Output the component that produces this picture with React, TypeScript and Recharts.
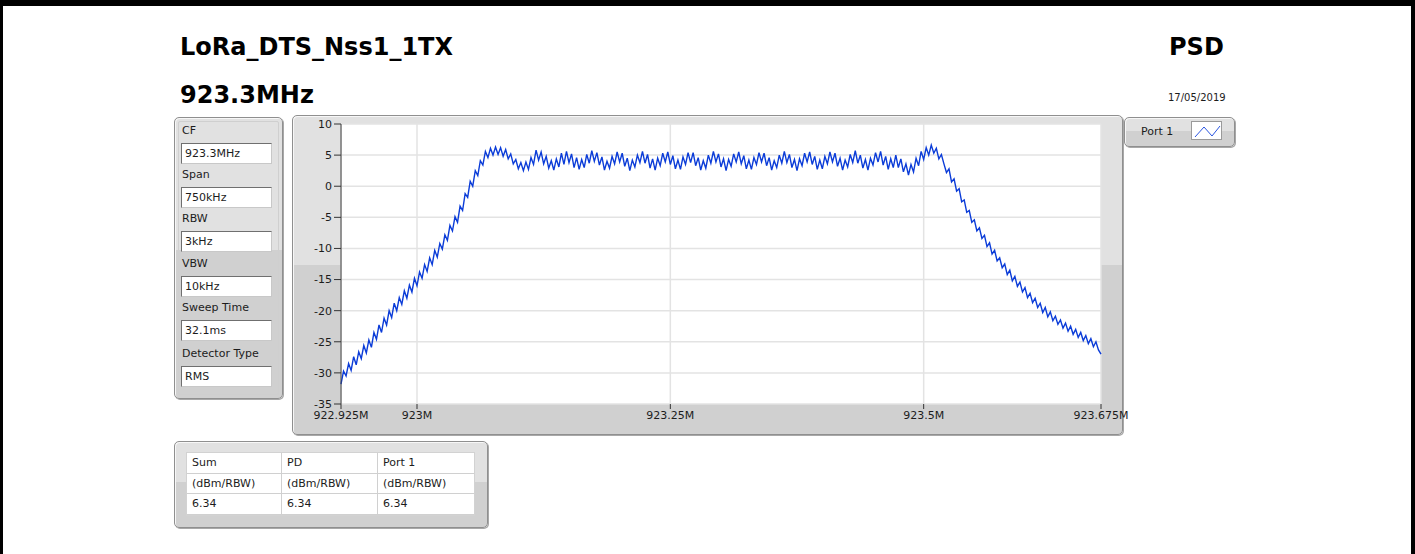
import { LineChart, Line, XAxis, YAxis, CartesianGrid } from "recharts";

// PSD trace, one value per 2.5 kHz sweep step (dBm/RBW)
const psdDbm = [
  -31.8, -29.7, -30.5, -28.5, -29.6, -27.4, -28.7, -26.6, -27.7, -25.6,
  -26.8, -24.7, -25.9, -23.5, -24.6, -22.3, -23.5, -21.2, -22.3, -20.0,
  -21.1, -18.8, -20.0, -17.9, -19.0, -16.8, -18.0, -15.9, -17.0, -14.8,
  -16.0, -13.8, -14.8, -12.6, -13.7, -11.5, -12.6, -10.3, -11.4, -9.2,
  -10.1, -7.8, -8.7, -6.3, -7.2, -4.9, -5.8, -3.2, -3.9, -1.2,
  -1.8, 0.8, 0.0, 2.5, 1.7, 4.1, 3.4, 5.6, 4.6, 6.1,
  5.0, 6.3, 5.1, 6.2, 4.8, 5.9, 4.4, 5.2, 3.6, 4.3,
  2.8, 3.8, 2.5, 3.9, 2.7, 4.6, 3.5, 5.8, 4.2, 5.5,
  3.6, 4.8, 2.9, 4.1, 2.6, 4.4, 3.1, 5.3, 3.5, 5.6,
  3.8, 5.2, 3.0, 4.6, 2.7, 4.3, 3.0, 5.1, 3.7, 5.7,
  4.0, 5.4, 3.4, 4.7, 2.6, 4.0, 2.9, 4.8, 3.6, 5.5,
  3.9, 5.3, 3.2, 4.5, 2.5, 4.2, 3.1, 5.0, 3.8, 5.6,
  3.7, 5.1, 2.9, 4.4, 2.6, 4.5, 3.3, 5.3, 3.9, 5.5,
  3.5, 4.9, 2.8, 4.2, 2.7, 4.7, 3.5, 5.4, 3.8, 5.4,
  3.3, 4.6, 2.6, 4.1, 2.9, 5.0, 3.7, 5.6, 3.9, 5.2,
  3.1, 4.4, 2.5, 4.3, 3.2, 5.2, 3.9, 5.5, 3.6, 4.9,
  2.8, 4.2, 2.7, 4.6, 3.5, 5.4, 3.9, 5.3, 3.3, 4.6,
  2.6, 4.1, 3.0, 5.0, 3.7, 5.6, 3.8, 5.1, 3.0, 4.3,
  2.5, 4.4, 3.3, 5.3, 3.9, 5.5, 3.5, 4.8, 2.7, 4.2,
  2.8, 4.8, 3.6, 5.5, 3.9, 5.3, 3.2, 4.5, 2.6, 4.2,
  3.1, 5.1, 3.8, 5.7, 3.7, 5.0, 2.9, 4.3, 2.6, 4.5,
  3.4, 5.4, 3.9, 5.6, 3.4, 4.8, 2.7, 4.4, 3.0, 5.0,
  3.0, 4.4, 2.3, 3.6, 1.8, 3.5, 2.3, 4.5, 3.3, 5.6,
  4.3, 6.2, 5.0, 6.6, 5.3, 6.1, 4.4, 5.1, 3.6, 2.2,
  2.8, 0.7, 1.2, -0.8, -0.4, -2.5, -2.2, -4.2, -3.9, -5.8,
  -5.4, -7.2, -6.7, -8.4, -7.9, -9.7, -9.1, -10.9, -10.3, -12.0,
  -11.5, -13.1, -12.5, -14.2, -13.5, -15.2, -14.5, -16.1, -15.4, -17.0,
  -16.3, -17.9, -17.2, -18.7, -18.0, -19.5, -18.8, -20.3, -19.5, -21.0,
  -20.2, -21.6, -20.9, -22.2, -21.5, -22.8, -22.0, -23.3, -22.5, -23.8,
  -23.0, -24.3, -23.5, -24.8, -24.0, -25.3, -24.5, -25.8, -25.0, -26.3,
  -27.0,
];

// sweep: 922.925 MHz start, 2.5 kHz per point (750 kHz span)
const startKHz = 922925;
const stepKHz = 2.5;
const xTicks = [922925, 923000, 923250, 923500, 923675];
const yTicks = [10, 5, 0, -5, -10, -15, -20, -25, -30, -35];

const settingLabels = ["CF", "Span", "RBW", "VBW", "Sweep Time", "Detector Type"];
const settingValues = ["923.3MHz", "750kHz", "3kHz", "10kHz", "32.1ms", "RMS"];

const tableHeaders = ["Sum", "PD", "Port 1"];
const tableUnits = ["(dBm/RBW)", "(dBm/RBW)", "(dBm/RBW)"];
const tableValues = ["6.34", "6.34", "6.34"];

const data = psdDbm.map((v, i) => ({ f: startKHz + i * stepKHz, psd: v }));

const font = '"DejaVu Sans", Verdana, sans-serif';
const ink = "#1c1c1c";
const tick = { fontSize: 11, fill: ink, fontFamily: font } as const;

function Panel({ x, y, w, h, children }: any) {
  return (
    <div
      style={{
        position: "absolute",
        left: x,
        top: y,
        width: w,
        height: h,
        boxSizing: "border-box",
        border: "1px solid #8f8f8f",
        borderRadius: 5,
        background: "linear-gradient(#e1e1e1 47%, #d0d0d0 47%)",
        boxShadow: "1px 1px 0 #a8a8a8, inset 1px 1px 0 #f7f7f7",
      }}
    >
      {children}
    </div>
  );
}

function Txt({ x, y, size, bold, children, w, align }: any) {
  return (
    <div
      style={{
        position: "absolute",
        left: x,
        top: y,
        width: w,
        textAlign: align || "left",
        fontFamily: font,
        fontSize: size,
        fontWeight: bold ? 700 : 400,
        lineHeight: 1,
        color: bold ? "#000" : ink,
        whiteSpace: "nowrap",
      }}
    >
      {children}
    </div>
  );
}

export default function App() {
  const rowTop = [143, 187, 231, 276, 320, 366];
  return (
    <div
      style={{
        position: "absolute",
        left: 0,
        top: 0,
        width: 1415,
        height: 554,
        background: "#fff",
        overflow: "hidden",
        fontFamily: font,
      }}
    >
      {/* frame */}
      <div style={{ position: "absolute", left: 0, top: 0, width: 1415, height: 6, background: "#000" }} />
      <div style={{ position: "absolute", left: 0, top: 0, width: 3, height: 554, background: "#000" }} />
      <div style={{ position: "absolute", left: 1411, top: 0, width: 4, height: 554, background: "#000" }} />

      <Txt x={180} y={35} size={24} bold>LoRa_DTS_Nss1_1TX</Txt>
      <Txt x={1169} y={35} size={24} bold>PSD</Txt>
      <Txt x={180} y={83} size={24} bold>923.3MHz</Txt>
      <Txt x={1168} y={93} size={10}>17/05/2019</Txt>

      {/* settings panel */}
      <Panel x={174} y={117} w={109} h={282}>
        <div
          style={{
            position: "absolute",
            left: 3,
            top: 3,
            right: 3,
            bottom: 3,
            border: "1px solid #cfcfcf",
            borderRadius: 2,
          }}
        />
      </Panel>
      {settingLabels.map((lab, i) => (
        <div key={lab}>
          <Txt x={182} y={rowTop[i] - 18} size={11}>{lab}</Txt>
          <div
            style={{
              position: "absolute",
              left: 181,
              top: rowTop[i],
              width: 91,
              height: 21,
              boxSizing: "border-box",
              background: "#fff",
              borderTop: "1px solid #6f6f6f",
              borderLeft: "1px solid #6f6f6f",
              borderRight: "1px solid #c8c8c8",
              borderBottom: "1px solid #c8c8c8",
              fontSize: 11,
              lineHeight: "19px",
              paddingLeft: 3,
              color: ink,
            }}
          >
            {settingValues[i]}
          </div>
        </div>
      ))}

      {/* graph panel */}
      <Panel x={292} y={115} w={831} h={320} />
      <div style={{ position: "absolute", left: 292, top: 115 }}>
        <LineChart
          width={850}
          height={320}
          data={data}
          margin={{ top: 9, right: 41, left: 0, bottom: 0 }}
        >
          <CartesianGrid fill="#ffffff" stroke="#e3e3e3" strokeWidth={1.5} />
          <XAxis
            dataKey="f"
            type="number"
            domain={[922925, 923675]}
            ticks={xTicks}
            interval={0}
            tickFormatter={(v: number) => `${v / 1000}M`}
            tick={tick}
            axisLine={false}
            tickLine={{ stroke: "#333" }}
            tickSize={5}
            tickMargin={2}
            height={31}
          />
          <YAxis
            type="number"
            domain={[-35, 10]}
            ticks={yTicks}
            interval={0}
            tick={tick}
            axisLine={{ stroke: "#3c3c3c" }}
            tickLine={{ stroke: "#333" }}
            tickSize={7}
            tickMargin={2}
            width={49}
          />
          <Line
            type="linear"
            dataKey="psd"
            stroke="#0b3cd8"
            strokeWidth={1.4}
            dot={false}
            isAnimationActive={false}
          />
        </LineChart>
      </div>

      {/* legend */}
      <Panel x={1124} y={117} w={111} h={30} />
      <Txt x={1141} y={126} size={11}>Port 1</Txt>
      <svg
        width={31}
        height={19}
        style={{ position: "absolute", left: 1191, top: 121, background: "#fff", border: "1px solid #9a9a9a", boxSizing: "border-box" }}
      >
        <polyline points="3,15 12,5 20,14 28,4" fill="none" stroke="#2a55e0" strokeWidth={1} />
      </svg>

      {/* measurement table */}
      <Panel x={174} y={441} w={314} h={87} />
      <div
        style={{
          position: "absolute",
          left: 186,
          top: 452,
          width: 289,
          height: 64,
          background: "#fff",
          border: "1px solid #d2d2d2",
          boxSizing: "border-box",
        }}
      >
        {[tableHeaders, tableUnits, tableValues].map((row, r) => (
          <div key={r} style={{ display: "flex", height: r === 1 ? 20 : 21, borderBottom: "1px solid #d0d0d0", boxSizing: "border-box" }}>
            {row.map((c, k) => (
              <div
                key={k}
                style={{
                  width: k === 0 ? 95 : 96,
                  borderRight: k < 2 ? "1px solid #d0d0d0" : "none",
                  boxSizing: "border-box",
                  fontSize: 11,
                  lineHeight: r === 1 ? "19px" : "20px",
                  paddingLeft: 5,
                  color: ink,
                }}
              >
                {c}
              </div>
            ))}
          </div>
        ))}
      </div>
    </div>
  );
}
